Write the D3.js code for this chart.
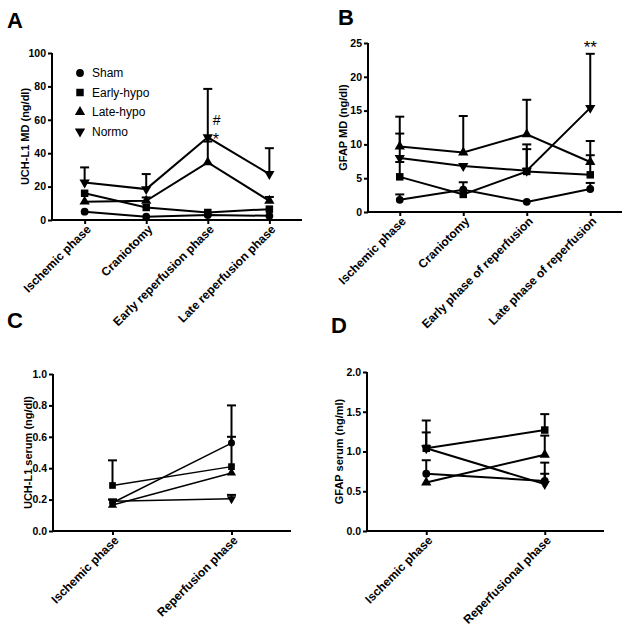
<!DOCTYPE html>
<html>
<head>
<meta charset="utf-8">
<script src="https://cdn.jsdelivr.net/npm/d3@7"></script>
<style>
  html, body { margin: 0; padding: 0; background: #fff; }
  svg { display: block; font-family: "Liberation Sans", Arial, Helvetica, sans-serif; }
  .tick text { font-weight: bold; font-size: 10.5px; fill: #000; }
</style>
</head>
<body>
<div id="chart"></div>
<script>
// groups, in legend order
var groups = ["Sham", "Early-hypo", "Late-hypo", "Normo"];

// A: UCH-L1 in microdialysate
var mdPhases = ["Ischemic phase", "Craniotomy", "Early reperfusion phase", "Late reperfusion phase"];
var uchMdMean = [
  [5, 2, 3, 2.5],
  [16, 7.5, 4.5, 6.5],
  [11, 11.5, 34.5, 11.5],
  [22.5, 18.5, 49.5, 27.5]
];
var uchMdErr = [
  [null, null, null, null],
  [null, null, null, null],
  [null, 13.5, 47, 13.8],
  [31.5, 27.5, 78.5, 43]
];
var uchMdTicks = [0, 20, 40, 60, 80, 100];

// B: GFAP in microdialysate
var gfapPhases = ["Ischemic phase", "Craniotomy", "Early phase of reperfusion", "Late phase of reperfusion"];
var gfapMdMean = [
  [1.8, 3.3, 1.5, 3.4],
  [5.2, 2.6, 6.0, 5.5],
  [9.7, 8.8, 11.5, 7.4],
  [8.0, 6.8, 6.1, 15.4]
];
var gfapMdErr = [
  [2.6, 4.4, null, 4.3],
  [7.4, null, 10.0, 8.4],
  [14.1, 14.2, 16.6, 10.5],
  [11.6, null, 9.3, 23.4]
];
var gfapMdTicks = [0, 5, 10, 15, 20, 25];

// C: UCH-L1 in serum
var uchSerumPhases = ["Ischemic phase", "Reperfusion phase"];
var uchSerumMean = [
  [0.18, 0.56],
  [0.29, 0.41],
  [0.165, 0.37],
  [0.19, 0.205]
];
var uchSerumErr = [
  [null, 0.80],
  [0.45, 0.60],
  [null, null],
  [0.20, 0.23]
];
var uchSerumTicks = [0, 0.2, 0.4, 0.6, 0.8, 1.0];

// D: GFAP in serum
var gfapSerumPhases = ["Ischemic phase", "Reperfusional phase"];
var gfapSerumMean = [
  [0.72, 0.63],
  [1.04, 1.27],
  [0.61, 0.96],
  [1.04, 0.59]
];
var gfapSerumErr = [
  [0.89, 0.72],
  [1.39, 1.47],
  [null, 1.2],
  [1.24, 0.86]
];
var gfapSerumTicks = [0, 0.5, 1.0, 1.5, 2.0];

// marker shapes per group (down triangle = rotated triangle)
var shapes = [
  { type: d3.symbolCircle, size: 48, rot: 0 },
  { type: d3.symbolSquare, size: 56, rot: 0 },
  { type: d3.symbolTriangle, size: 46, rot: 0 },
  { type: d3.symbolTriangle, size: 46, rot: 180 }
];

var W = 629, H = 627;
var svg = d3.select("#chart").append("svg").attr("width", W).attr("height", H);

function panel(o) {
  var g = svg.append("g");
  var x = d3.scalePoint().domain(o.phases).range([o.x0, o.x1]).padding(o.pad);
  var y = d3.scaleLinear().domain([0, o.ymax]).range([o.y0, o.yTop]);

  // axes
  var ya = g.append("g").attr("transform", "translate(" + o.x0 + ",0)")
    .call(d3.axisLeft(y).tickValues(o.ticks).tickSize(4).tickPadding(2).tickFormat(d3.format(o.fmt)));
  ya.select(".domain").attr("stroke", "#000").attr("stroke-width", 2).attr("d", "M0," + (o.y0 + 1) + "V" + o.yTop);
  ya.selectAll(".tick line").attr("stroke", "#000").attr("stroke-width", 2);

  var xa = g.append("g").attr("transform", "translate(0," + o.y0 + ")")
    .call(d3.axisBottom(x).tickSize(4).tickFormat(""));
  xa.select(".domain").attr("stroke", "#000").attr("stroke-width", 2).attr("d", "M" + o.x0 + ",0H" + o.x1);
  xa.selectAll(".tick line").attr("stroke", "#000").attr("stroke-width", 2);

  g.selectAll("text.xl").data(o.phases).join("text")
    .attr("class", "xl")
    .attr("transform", function (d) { return "translate(" + (x(d) + 4) + "," + (o.y0 + 7) + ") rotate(-45)"; })
    .attr("text-anchor", "end").attr("dy", "0.35em")
    .style("font-size", "12px").style("font-weight", "bold")
    .text(function (d) { return d; });

  g.append("text")
    .attr("transform", "translate(" + o.titleX + "," + ((o.y0 + o.yTop) / 2) + ") rotate(-90)")
    .attr("text-anchor", "middle").attr("dy", "0.35em")
    .style("font-size", "11px").style("font-weight", "bold")
    .text(o.title);

  g.append("text").attr("x", o.letterX).attr("y", o.letterY)
    .style("font-size", "22px").style("font-weight", "bold").text(o.letter);

  // error bars (upward)
  o.mean.forEach(function (row, gi) {
    row.forEach(function (v, pi) {
      var e = o.err[gi][pi];
      if (e == null) return;
      var cx = x(o.phases[pi]);
      g.append("line").attr("x1", cx).attr("x2", cx).attr("y1", y(v)).attr("y2", y(e))
        .attr("stroke", "#000").attr("stroke-width", 2);
      g.append("line").attr("x1", cx - 4.5).attr("x2", cx + 4.5).attr("y1", y(e)).attr("y2", y(e))
        .attr("stroke", "#000").attr("stroke-width", 2);
    });
  });

  var line = d3.line().x(function (d, i) { return x(o.phases[i]); }).y(function (d) { return y(d); });
  o.mean.forEach(function (row, gi) {
    g.append("path").attr("d", line(row)).attr("fill", "none")
      .attr("stroke", "#000").attr("stroke-width", o.lw);
    var s = shapes[gi];
    g.selectAll(null).data(row).join("path")
      .attr("d", d3.symbol().type(s.type).size(s.size * o.ms))
      .attr("transform", function (d, i) {
        return "translate(" + x(o.phases[i]) + "," + y(d) + ")" + (s.rot ? " rotate(" + s.rot + ")" : "");
      })
      .attr("fill", "#000");
  });
  return { g: g, x: x, y: y };
}

var A = panel({ phases: mdPhases, mean: uchMdMean, err: uchMdErr, ticks: uchMdTicks, ymax: 100, fmt: "d",
  x0: 52, x1: 302, y0: 220, yTop: 53, pad: 0.53, title: "UCH-L1 MD (ng/dl)", titleX: 25,
  letter: "A", letterX: 7, letterY: 28, lw: 2, ms: 1 });

var B = panel({ phases: gfapPhases, mean: gfapMdMean, err: gfapMdErr, ticks: gfapMdTicks, ymax: 25, fmt: "d",
  x0: 368, x1: 622, y0: 212, yTop: 43, pad: 0.5, title: "GFAP MD (ng/dl)", titleX: 343,
  letter: "B", letterX: 338, letterY: 25, lw: 2, ms: 1 });

var C = panel({ phases: uchSerumPhases, mean: uchSerumMean, err: uchSerumErr, ticks: uchSerumTicks, ymax: 1.0, fmt: ".1f",
  x0: 53, x1: 291, y0: 531, yTop: 374, pad: 0.5, title: "UCH-L1 serum (ng/dl)", titleX: 28,
  letter: "C", letterX: 7, letterY: 328, lw: 1.5, ms: 0.8 });

var D = panel({ phases: gfapSerumPhases, mean: gfapSerumMean, err: gfapSerumErr, ticks: gfapSerumTicks, ymax: 2.0, fmt: ".1f",
  x0: 367, x1: 604, y0: 531, yTop: 372, pad: 0.5, title: "GFAP serum (ng/ml)", titleX: 339,
  letter: "D", letterX: 331, letterY: 333, lw: 2, ms: 1 });

// legend (panel A)
var leg = A.g.append("g");
groups.forEach(function (name, i) {
  var s = shapes[i], ly = 73 + i * 19.5;
  leg.append("path").attr("d", d3.symbol().type(s.type).size(s.size)())
    .attr("transform", "translate(80," + ly + ")" + (s.rot ? " rotate(180)" : ""));
  leg.append("text").attr("x", 92).attr("y", ly).attr("dy", "0.35em")
    .style("font-size", "12px").text(name);
});

// significance marks
A.g.append("text").attr("x", A.x(mdPhases[2]) + 5).attr("y", 125)
  .style("font-size", "14px").text("#");
A.g.append("text").attr("x", A.x(mdPhases[2]) + 5).attr("y", 145)
  .style("font-size", "16px").text("*");
B.g.append("text").attr("x", B.x(gfapPhases[3])).attr("y", B.y(gfapMdErr[3][3]) - 0.5)
  .attr("text-anchor", "middle").style("font-size", "17px").text("**");
</script>
</body>
</html>
